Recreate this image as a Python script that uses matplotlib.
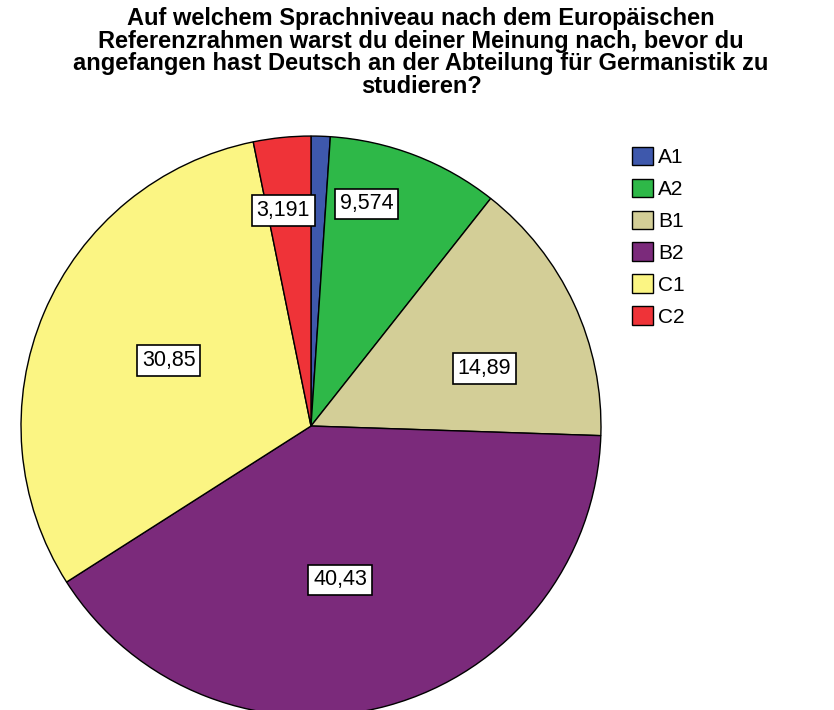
import numpy as np
import matplotlib.pyplot as plt
from matplotlib.patches import Patch

categories = ["A1", "A2", "B1", "B2", "C1", "C2"]
percent = [1.064, 9.574, 14.89, 40.43, 30.85, 3.191]
labels = ["", "9,574", "14,89", "40,43", "30,85", "3,191"]
colors = ["#3e58ac", "#2eb848", "#d3ce97", "#7b2a7b", "#fbf583", "#ef3338"]

# label placement (fraction of radius, angle shift from wedge middle)
label_r = [0.6, 0.79, 0.63, 0.54, 0.54, 0.75]
label_shift = [0, 7, -6.5, -4.6, -1.8, 1.6]

plt.rcParams["font.family"] = ["Liberation Sans", "DejaVu Sans"]

fig = plt.figure(figsize=(8.34, 7.10), dpi=100)
ax = fig.add_axes([0.0252, -0.0085, 0.6954, 0.8169])

wedges, _ = ax.pie(percent, colors=colors, startangle=90, counterclock=False,
                   wedgeprops=dict(edgecolor="black", linewidth=1.0), radius=1.0)
ax.set_xlim(-1, 1)
ax.set_ylim(-1, 1)
ax.set_aspect("equal")
ax.axis("off")

for w, lab, r, s in zip(wedges, labels, label_r, label_shift):
    if not lab:
        continue
    ang = np.deg2rad((w.theta1 + w.theta2) / 2 + s)
    ax.text(r * np.cos(ang), r * np.sin(ang), lab, ha="center", va="center",
            fontsize=15.5,
            bbox=dict(boxstyle="square,pad=0.22", fc="white", ec="black", lw=1.2))

fig.text(0.505, 0.99,
         "Auf welchem Sprachniveau nach dem Europäischen\n"
         "Referenzrahmen warst du deiner Meinung nach, bevor du\n"
         "angefangen hast Deutsch an der Abteilung für Germanistik zu\n"
         "studieren?",
         ha="center", va="top", fontsize=17, fontweight="bold",
         linespacing=0.98)

handles = [Patch(facecolor=c, edgecolor="black", label=k) for c, k in zip(colors, categories)]
fig.legend(handles=handles, loc="upper left", bbox_to_anchor=(0.745, 0.808),
           frameon=False, fontsize=15, handlelength=1.0, handleheight=1.0,
           handletextpad=0.25, labelspacing=0.55, borderpad=0)

fig.savefig("out.png", dpi=100)
